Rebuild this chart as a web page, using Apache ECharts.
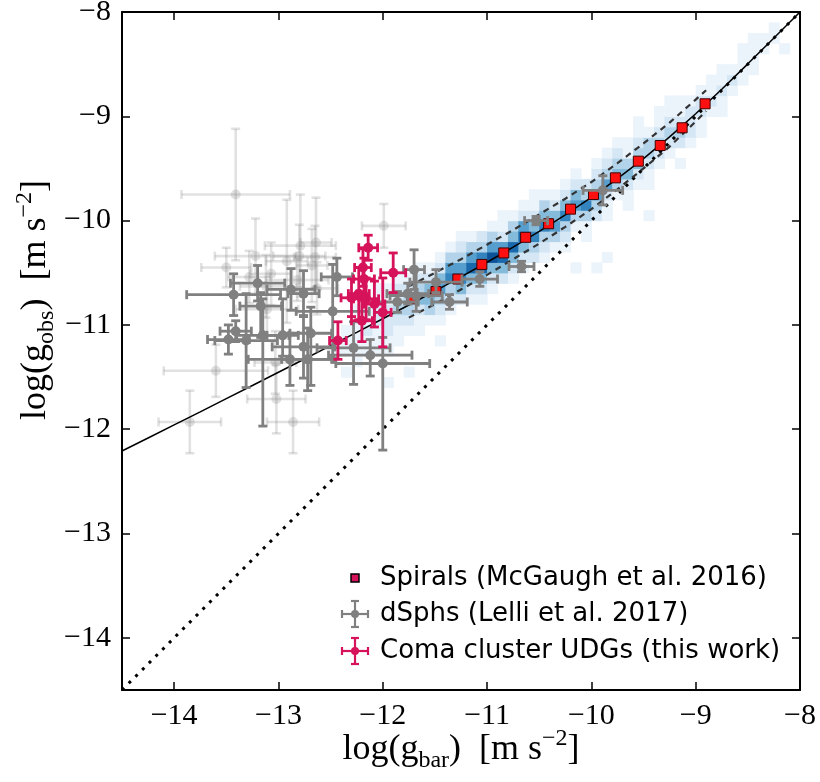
<!DOCTYPE html>
<html>
<head>
<meta charset="utf-8">
<script src="https://cdn.jsdelivr.net/npm/echarts@6/dist/echarts.min.js"></script>
<style>
  html, body { margin: 0; padding: 0; background: #fff; }
  #chart { width: 820px; height: 782px; }
</style>
</head>
<body>
<div id="chart"></div>
<script>
// tick positions
const xTicks = [-14, -13, -12, -11, -10, -9, -8]
const yTicks = [-14, -13, -12, -11, -10, -9, -8]

// radial acceleration relation (McGaugh+2016 fit)
const rarX = [-14.5, -14.25, -14, -13.75, -13.5, -13.25, -13, -12.75, -12.5, -12.25, -12, -11.75, -11.5,
  -11.25, -11, -10.75, -10.5, -10.25, -10, -9.75, -9.5, -9.25, -9, -8.75, -8.5, -8.25, -8]
const rarY = [-12.209, -12.084, -11.958, -11.833, -11.707, -11.581, -11.454, -11.327, -11.199, -11.071,
  -10.941, -10.809, -10.676, -10.539, -10.399, -10.254, -10.104, -9.945, -9.777, -9.598, -9.405, -9.197,
  -8.975, -8.741, -8.497, -8.250, -8.000]

// dashed scatter band
const dashX = [-11.75, -11.5, -11.25, -11, -10.75, -10.5, -10.25, -10, -9.75, -9.5, -9.25, -9, -8.9]
const dashHi = [-10.63, -10.50, -10.37, -10.23, -10.09, -9.94, -9.79, -9.63, -9.45, -9.26, -9.06, -8.84, -8.75]
const dashLo = [-10.93, -10.80, -10.66, -10.52, -10.37, -10.22, -10.06, -9.89, -9.70, -9.50, -9.29, -9.05, -8.95]

// 1:1 line
const oneX = [-14.5, -8]
const oneY = [-14.5, -8]

// binned spirals
const spiralX = [-11.72, -11.49, -11.28, -11.05, -10.84, -10.63, -10.41, -10.20, -9.98, -9.77, -9.55, -9.34, -9.13, -8.91]
const spiralY = [-10.75, -10.68, -10.56, -10.42, -10.31, -10.16, -10.03, -9.89, -9.75, -9.59, -9.43, -9.28, -9.11, -8.88]

// dSphs (Lelli+2017), dark
const dsphX = [-13.20, -13.43, -13.17, -12.88, -12.76, -12.44, -12.48, -11.70, -13.41, -13.48, -13.31, -13.15,
  -12.96, -12.69, -12.76, -12.89, -12.72, -12.28, -12.12, -12.00, -11.76, -11.86, -11.68, -11.49, -11.07,
  -11.36, -10.67, -10.53, -9.89]
const dsphY = [-10.60, -10.71, -10.82, -10.66, -10.70, -10.54, -10.87, -10.47, -11.06, -11.14, -11.15, -11.10,
  -11.10, -11.08, -11.21, -11.33, -11.33, -11.22, -11.29, -11.37, -10.70, -10.78, -10.72, -10.59, -10.56,
  -10.78, -10.44, -10.00, -9.71]
const dsphXErr = [0.26, 0.45, 0.2, 0.23, 0.15, 0.15, 0.35, 0.1, 0.15, 0.2, 0.3, 0.25, 0.15, 0.2, 0.3, 0.4, 0.25,
  0.35, 0.4, 0.45, 0.2, 0.2, 0.25, 0.25, 0.17, 0.17, 0.12, 0.11, 0.19]
const dsphYLo = [0.17, 0.2, 0.3, 0.2, 0.22, 0.18, 0.45, 0.19, 0.1, 0.14, 0.45, 0.87, 0.2, 0.5, 0.3, 0.25, 0.3,
  0.35, 0.2, 0.83, 0.1, 0.1, 0.15, 0.1, 0.07, 0.07, 0.05, 0.04, 0.14]
const dsphYHi = [0.17, 0.2, 0.13, 0.2, 0.22, 0.18, 0.45, 0.19, 0.1, 0.14, 0.45, 0.35, 0.35, 0.25, 0.3, 0.25, 0.3,
  0.25, 0.15, 0.25, 0.1, 0.1, 0.25, 0.12, 0.07, 0.07, 0.05, 0.04, 0.14]

// dSphs, faint (lower quality)
const lightX = [-13.41, -11.99, -13.22, -13.50, -12.79, -12.64, -12.92, -12.80, -12.65, -12.68, -13.28, -13.07,
  -13.12, -12.82, -12.63, -13.60, -13.85, -13.02, -12.86, -13.03, -13.11]
const lightY = [-9.75, -10.05, -10.34, -10.45, -10.24, -10.21, -10.39, -10.34, -10.35, -10.43, -10.54, -10.51,
  -10.63, -10.57, -10.65, -11.44, -11.93, -11.71, -11.93, -11.36, -10.85]
const lightXErr = [0.52, 0.21, 0.39, 0.24, 0.34, 0.15, 0.2, 0.25, 0.2, 0.15, 0.2, 0.2, 0.25, 0.3, 0.2, 0.5, 0.3,
  0.28, 0.25, 0.2, 0.3]
const lightYErr = [0.63, 0.21, 0.36, 0.19, 0.49, 0.43, 0.59, 0.3, 0.3, 0.35, 0.25, 0.3, 0.3, 0.2, 0.25, 0.25, 0.3,
  0.33, 0.3, 0.3, 0.25]

// Coma cluster UDGs
const udgX = [-12.14, -11.90, -12.18, -12.19, -12.30, -12.16, -12.08, -12.00, -12.20, -12.43, -12.23]
const udgY = [-10.26, -10.50, -10.56, -10.45, -10.74, -10.75, -10.80, -10.88, -10.96, -11.15, -10.70]
const udgXErr = [0.09, 0.12, 0.1, 0.08, 0.1, 0.12, 0.1, 0.08, 0.1, 0.08, 0.1]
const udgYErr = [0.12, 0.19, 0.2, 0.18, 0.18, 0.2, 0.22, 0.33, 0.2, 0.18, 0.25]

// 2d histogram of SPARC points: [x bin left edge, lowest y bin edge, counts upward] (0.1 dex bins)
const histCols = [
  [-12.4, -11.5, [1, 0, 1, 1, 1, 0, 0]],
  [-12.3, -11.4, [1, 1, 1, 1, 1, 1, 0]],
  [-12.2, -11.4, [0, 1, 1, 2, 1, 1, 0]],
  [-12.1, -11.3, [1, 1, 1, 2, 2, 1, 1]],
  [-12.0, -11.3, [1, 1, 2, 2, 2, 1, 1]],
  [-11.9, -11.2, [1, 1, 2, 3, 2, 2, 1]],
  [-11.8, -11.2, [0, 1, 2, 3, 3, 2, 1]],
  [-11.7, -11.1, [1, 1, 2, 4, 3, 2, 1]],
  [-11.6, -11.1, [0, 1, 3, 4, 4, 2, 1]],
  [-11.5, -11.0, [1, 2, 3, 5, 4, 2, 1]],
  [-11.4, -10.9, [1, 2, 3, 6, 5, 3, 1]],
  [-11.3, -10.9, [0, 2, 4, 6, 5, 3, 2]],
  [-11.2, -10.8, [1, 2, 4, 7, 5, 3, 1]],
  [-11.1, -10.8, [1, 2, 4, 7, 6, 3, 2]],
  [-11.0, -10.7, [1, 2, 4, 8, 5, 3, 1]],
  [-10.9, -10.7, [0, 2, 4, 7, 5, 2, 1]],
  [-10.8, -10.6, [1, 2, 4, 7, 4, 3, 1]],
  [-10.7, -10.5, [1, 2, 4, 7, 5, 2, 1]],
  [-10.6, -10.5, [0, 2, 3, 6, 4, 2, 1]],
  [-10.5, -10.4, [1, 2, 3, 6, 4, 3, 1]],
  [-10.4, -10.4, [0, 1, 3, 5, 4, 2, 1]],
  [-10.3, -10.3, [1, 2, 3, 6, 4, 2, 1]],
  [-10.2, -10.2, [0, 1, 3, 5, 4, 2, 1]],
  [-10.1, -10.2, [1, 1, 3, 6, 3, 2, 0]],
  [-10.0, -10.1, [0, 2, 3, 5, 3, 2, 1]],
  [-9.9, -10.0, [1, 1, 2, 5, 3, 2, 1]],
  [-9.8, -9.9, [0, 1, 3, 4, 3, 2, 1]],
  [-9.7, -9.9, [1, 1, 2, 4, 3, 1, 1]],
  [-9.6, -9.8, [0, 1, 2, 4, 3, 2, 1]],
  [-9.5, -9.7, [1, 1, 2, 3, 3, 1, 0]],
  [-9.4, -9.6, [0, 1, 2, 3, 2, 1, 1]],
  [-9.3, -9.5, [0, 1, 2, 3, 2, 1, 0]],
  [-9.2, -9.5, [1, 0, 2, 3, 2, 1, 1]],
  [-9.1, -9.4, [0, 1, 2, 2, 2, 1, 0]],
  [-9.0, -9.3, [0, 1, 1, 2, 2, 1, 0]],
  [-8.9, -9.2, [0, 0, 1, 2, 1, 1, 0]],
  [-8.8, -9.1, [0, 1, 1, 2, 1, 1, 0]],
  [-8.7, -9.0, [0, 0, 1, 2, 1, 0, 0]],
  [-8.6, -8.9, [0, 0, 1, 1, 1, 1, 0]],
  [-8.5, -8.8, [0, 0, 1, 1, 1, 1, 0]],
  [-8.4, -8.7, [0, 0, 0, 1, 1, 0, 0]],
  [-8.3, -8.6, [0, 0, 0, 1, 1, 0, 0]]
]
// isolated faint bins off the main band: [x left, y low, count]
const histExtra = [
  [-8.2, -8.4, 1], [-9.9, -10.4, 1], [-9.5, -10.0, 1], [-10.2, -10.5, 1], [-10.0, -10.5, 1],
  [-11.5, -11.2, 1], [-12.0, -11.6, 1], [-11.8, -11.5, 1], [-9.6, -9.1, 1], [-9.3, -8.9, 1],
  [-10.9, -10.0, 1], [-11.3, -10.2, 1], [-10.6, -9.8, 1], [-12.5, -11.3, 1]
]
const histColors = ['#ffffff', '#ebf3fb', '#d5e6f4', '#b2d3e9', '#84bbdb', '#559ecd', '#3383be', '#1b69ad', '#0c5299']

const SERIF = '"Liberation Serif", serif'
const SANS = '"DejaVu Sans", sans-serif'
const GRAY = '#808080'
const PINK = '#d6135a'

function minus(v) {
  return (v < 0 ? '\u2212' : '') + Math.abs(v)
}

function pairs(xs, ys) {
  return xs.map((x, i) => [x, ys[i]])
}

function histData() {
  let out = []
  histCols.forEach(c => {
    c[2].forEach((v, i) => {
      if (v > 0) out.push([c[0], Math.round((c[1] + i * 0.1) * 10) / 10, v])
    })
  })
  return histExtra.concat(out)
}

function renderCell(params, api) {
  let a = api.coord([api.value(0), api.value(1) + 0.1])
  let b = api.coord([api.value(0) + 0.1, api.value(1)])
  return {
    type: 'rect',
    shape: { x: a[0], y: a[1], width: b[0] - a[0] + 0.6, height: b[1] - a[1] + 0.6 },
    style: { fill: histColors[api.value(2)] }
  }
}

// errorbar with caps + round marker
function errRender(color, width, cap, r) {
  return function (params, api) {
    let x = api.value(0), y = api.value(1)
    let p = api.coord([x, y])
    let l = api.coord([x - api.value(2), y]), rr = api.coord([x + api.value(3), y])
    let b = api.coord([x, y - api.value(4)]), t = api.coord([x, y + api.value(5)])
    let ls = { stroke: color, lineWidth: width }
    return {
      type: 'group',
      children: [
        { type: 'line', shape: { x1: l[0], y1: p[1], x2: rr[0], y2: p[1] }, style: ls },
        { type: 'line', shape: { x1: p[0], y1: b[1], x2: p[0], y2: t[1] }, style: ls },
        { type: 'line', shape: { x1: l[0], y1: p[1] - cap, x2: l[0], y2: p[1] + cap }, style: ls },
        { type: 'line', shape: { x1: rr[0], y1: p[1] - cap, x2: rr[0], y2: p[1] + cap }, style: ls },
        { type: 'line', shape: { x1: p[0] - cap, y1: b[1], x2: p[0] + cap, y2: b[1] }, style: ls },
        { type: 'line', shape: { x1: p[0] - cap, y1: t[1], x2: p[0] + cap, y2: t[1] }, style: ls },
        { type: 'circle', shape: { cx: p[0], cy: p[1], r: r }, style: { fill: color } }
      ]
    }
  }
}

function errData(xs, ys, xlo, xhi, ylo, yhi) {
  return xs.map((x, i) => [x, ys[i], xlo[i], xhi[i], ylo[i], yhi[i]])
}

function axisPair(ticks, pos, labels) {
  return {
    type: 'value', min: -14.5, max: -8, position: pos,
    axisLine: { show: true, onZero: false, lineStyle: { color: '#000', width: 2 } },
    axisTick: { show: true, inside: true, length: 8, customValues: ticks, lineStyle: { color: '#000', width: 1.5 } },
    axisLabel: labels ? {
      customValues: ticks, formatter: minus, fontFamily: SERIF, fontSize: 30, color: '#000', margin: 11
    } : { show: false },
    splitLine: { show: false }
  }
}

function legendIcon(cx, cy, color) {
  let ls = { stroke: color, lineWidth: 2.2 }
  return [
    { type: 'line', shape: { x1: cx - 13, y1: cy, x2: cx + 13, y2: cy }, style: ls },
    { type: 'line', shape: { x1: cx, y1: cy - 13, x2: cx, y2: cy + 13 }, style: ls },
    { type: 'line', shape: { x1: cx - 13, y1: cy - 4, x2: cx - 13, y2: cy + 4 }, style: ls },
    { type: 'line', shape: { x1: cx + 13, y1: cy - 4, x2: cx + 13, y2: cy + 4 }, style: ls },
    { type: 'line', shape: { x1: cx - 4, y1: cy - 13, x2: cx + 4, y2: cy - 13 }, style: ls },
    { type: 'line', shape: { x1: cx - 4, y1: cy + 13, x2: cx + 4, y2: cy + 13 }, style: ls },
    { type: 'circle', shape: { cx: cx, cy: cy, r: 4 }, style: { fill: color } }
  ]
}

const titleRich = {
  n: { fontFamily: SERIF, fontSize: 36, lineHeight: 46, verticalAlign: 'middle', fill: '#000' },
  s: { fontFamily: SERIF, fontSize: 24, lineHeight: 22, verticalAlign: 'bottom', fill: '#000' },
  p: { fontFamily: SERIF, fontSize: 24, lineHeight: 22, verticalAlign: 'top', fill: '#000' }
}

function init() {
  let chart = echarts.init(document.getElementById('chart'), null, { renderer: 'canvas' })
  let legendText = (x, y, txt) => ({
    type: 'text', x: x, y: y,
    style: { text: txt, font: '26px ' + SANS, fill: '#000', verticalAlign: 'middle' }
  })
  chart.setOption({
    animation: false,
    backgroundColor: '#fff',
    grid: { left: 122, right: 20, top: 12, bottom: 92, outerBoundsMode: 'none' },
    xAxis: [axisPair(xTicks, 'bottom', true), axisPair(xTicks, 'top', false)],
    yAxis: [axisPair(yTicks, 'left', true), axisPair(yTicks, 'right', false)],
    series: [
      {
        type: 'custom', name: 'hist', renderItem: renderCell, data: histData(),
        encode: { x: 0, y: 1 }, clip: true, silent: true, z: 1
      },
      {
        type: 'custom', name: 'faint', data: errData(lightX, lightY, lightXErr, lightXErr, lightYErr, lightYErr),
        renderItem: errRender('rgba(128,128,128,0.24)', 2.6, 4.5, 5), encode: { x: 0, y: 1 }, clip: true, z: 2
      },
      {
        type: 'line', data: pairs(oneX, oneY), showSymbol: false, symbol: 'none', z: 3,
        lineStyle: { color: '#000', width: 3, type: [3, 6.5] }
      },
      {
        type: 'line', data: pairs(rarX, rarY), showSymbol: false, symbol: 'none', z: 3,
        lineStyle: { color: '#000', width: 1.5 }
      },
      {
        type: 'line', data: pairs(dashX, dashHi), showSymbol: false, symbol: 'none', z: 3,
        lineStyle: { color: '#333', width: 2.2, type: [6, 5] }
      },
      {
        type: 'line', data: pairs(dashX, dashLo), showSymbol: false, symbol: 'none', z: 3,
        lineStyle: { color: '#333', width: 2.2, type: [6, 5] }
      },
      {
        type: 'scatter', name: 'Spirals', data: pairs(spiralX, spiralY), symbol: 'rect', symbolSize: 10, z: 4,
        itemStyle: { color: '#ff1010', borderColor: '#400000', borderWidth: 1, opacity: 1 }
      },
      {
        type: 'custom', name: 'dSphs', data: errData(dsphX, dsphY, dsphXErr, dsphXErr, dsphYLo, dsphYHi),
        renderItem: errRender(GRAY, 2.8, 4.5, 5), encode: { x: 0, y: 1 }, clip: true, z: 5
      },
      {
        type: 'custom', name: 'UDGs', data: errData(udgX, udgY, udgXErr, udgXErr, udgYErr, udgYErr),
        renderItem: errRender(PINK, 2.8, 4.5, 5), encode: { x: 0, y: 1 }, clip: true, z: 6
      }
    ],
    graphic: [
      {
        type: 'text', x: 461, y: 750,
        style: {
          text: '{n|log(g}{s|bar}{n|)  [m s}{p|\u22122}{n|]}', rich: titleRich,
          align: 'center', verticalAlign: 'middle'
        }
      },
      {
        type: 'text', x: 36, y: 300, rotation: Math.PI / 2,
        style: {
          text: '{n|log(g}{s|obs}{n|)  [m s}{p|\u22122}{n|]}', rich: titleRich,
          align: 'center', verticalAlign: 'middle'
        }
      },
      {
        type: 'rect', shape: { x: 351, y: 574, width: 8, height: 8 },
        style: { fill: PINK, stroke: '#000', lineWidth: 1.5 }
      },
      legendText(380, 578, 'Spirals (McGaugh et al. 2016)'),
      { type: 'group', children: legendIcon(355, 614, GRAY) },
      legendText(380, 614, 'dSphs (Lelli et al. 2017)'),
      { type: 'group', children: legendIcon(355, 651, PINK) },
      legendText(380, 651, 'Coma cluster UDGs (this work)')
    ]
  })
}

init()
</script>
</body>
</html>
